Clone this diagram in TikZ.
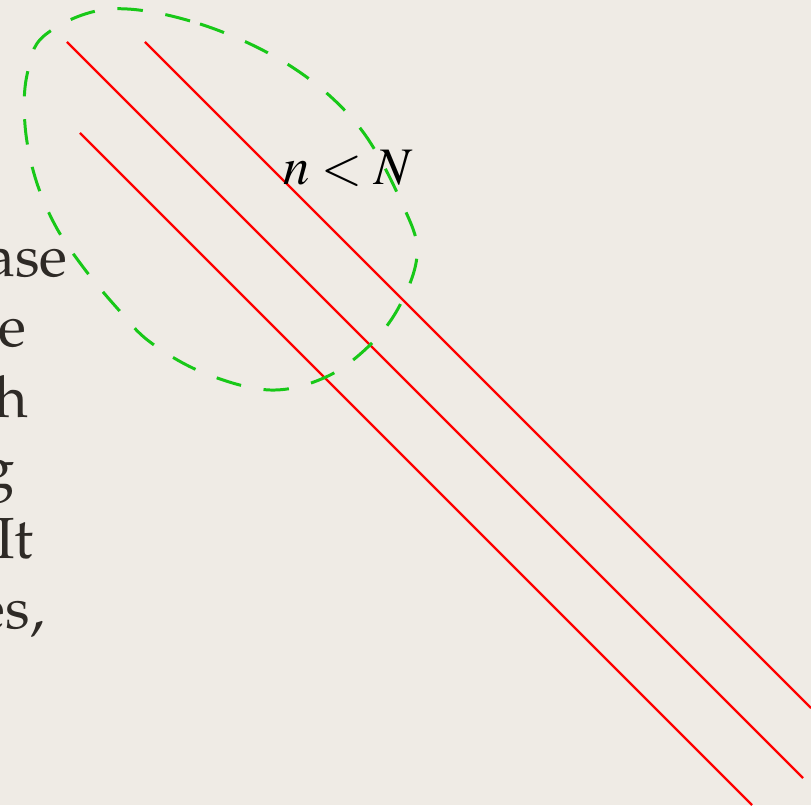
\documentclass[tikz,border=0pt]{standalone}
\usepackage[T1]{fontenc}
\usepackage{mathptmx}
\usepackage{tikz}
\definecolor{paper}{RGB}{239,235,229}
\definecolor{slidetext}{RGB}{46,42,38}
\definecolor{hilite}{RGB}{24,200,24}

\begin{document}
\begin{tikzpicture}[
  redline/.style={line width=1.3pt,red},
  groupring/.style={line width=1.7pt,hilite,dash pattern=on 14.5pt off 13pt},
  slideword/.style={anchor=base east,inner sep=0pt,text=slidetext,font=\fontencoding{T1}\fontfamily{ppl}\fontsize{33}{40}\selectfont}]
\fill[paper] (0,0) rectangle (16.220,16.100);
\useasboundingbox (0,0) rectangle (16.220,16.100);
\node[slideword] (wordase) at (1.360,10.560) {ase};
\node[slideword] (worde) at (0.540,9.160) {e};
\node[slideword] (wordh) at (0.580,7.740) {h};
\node[slideword] (wordg) at (0.300,6.340) {g};
\node[slideword] (wordit) at (0.680,4.940) {It};
\node[slideword] (wordes) at (0.900,3.540) {es,};
\draw[redline] (1.340,15.260) -- (16.060,0.540);
\draw[redline] (2.900,15.260) -- (16.220,1.940);
\draw[redline] (1.600,13.440) -- (15.040,0.000);
\node[anchor=base,inner sep=0pt,font=\fontsize{30}{36}\selectfont] (bound) at (6.960,12.400) {$n<N$};
\draw[groupring] plot[smooth cycle,tension=0.6] coordinates {
  (2.200,15.920) (4.000,15.620) (5.840,14.760) (7.200,13.540) (8.100,11.900)
  (8.340,11.000) (8.000,10.000) (7.400,9.200) (6.520,8.560) (5.400,8.300)
  (4.080,8.640) (3.000,9.260) (2.340,9.940) (1.660,10.760) (1.100,11.600)
  (0.700,12.560) (0.500,13.600) (0.540,14.600) (0.900,15.400)};
\end{tikzpicture}
\end{document}
